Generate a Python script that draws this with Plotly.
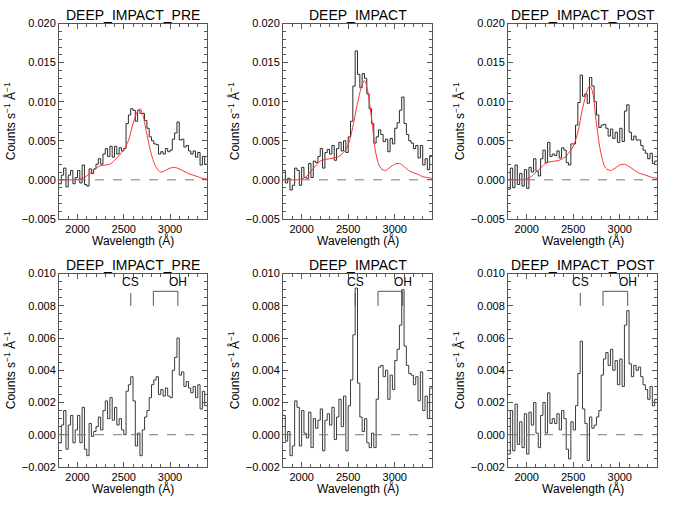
import plotly.graph_objects as go

# bin left edges of the spectra (Angstrom), 25 A bins from 1800 to 3400
wave = list(range(1800, 3400, 25))

# observed spectra, counts s^-1 A^-1
pre_obs = [-0.0005, 0.0006, 0.0015, -0.0009, 0.0006, 0.0012, -0.0005, 0.0003,
           0.0012, -0.0004, 0.0019, -0.0006, -0.0008, 0.0014, 0.0008, 0.0014,
           0.0020, 0.0027, 0.0020, 0.0033, 0.0040, 0.0030, 0.0043, 0.0029,
           0.0043, 0.0033, 0.0041, 0.0037, 0.0040, 0.0072, 0.0083, 0.0091,
           0.0089, 0.0075, 0.0089, 0.0085, 0.0085, 0.0076, 0.0066, 0.0055,
           0.0050, 0.0046, 0.0045, 0.0033, 0.0036, 0.0033, 0.0040, 0.0036,
           0.0038, 0.0052, 0.0060, 0.0074, 0.0051, 0.0052, 0.0042, 0.0044,
           0.0037, 0.0033, 0.0037, 0.0029, 0.0035, 0.0019, 0.0030, 0.0020]

impact_obs = [0.0012, -0.0004, 0.0002, -0.0013, -0.0007, 0.0015, 0.0012, -0.0007,
              0.0016, 0.0003, 0.0002, 0.0021, 0.0003, 0.0024, 0.0022, 0.0030,
              0.0040, 0.0015, 0.0035, 0.0039, 0.0033, 0.0044, 0.0025, 0.0040,
              0.0048, 0.0037, 0.0050, 0.0035, 0.0055, 0.0075, 0.0120, 0.0165,
              0.0135, 0.0118, 0.0136, 0.0130, 0.0110, 0.0091, 0.0072, 0.0047,
              0.0055, 0.0064, 0.0058, 0.0049, 0.0052, 0.0036, 0.0053, 0.0046,
              0.0066, 0.0073, 0.0089, 0.0106, 0.0072, 0.0058, 0.0050, 0.0047,
              0.0040, 0.0044, 0.0028, 0.0044, 0.0019, 0.0027, 0.0013, 0.0031]

post_obs = [-0.0012, 0.0015, -0.0010, 0.0019, -0.0006, 0.0008, -0.0008, 0.0013,
            -0.0011, 0.0016, 0.0010, 0.0027, 0.0011, 0.0005, 0.0027, 0.0038,
            0.0022, 0.0048, 0.0030, 0.0033, 0.0031, 0.0037, 0.0028, 0.0041,
            0.0038, 0.0022, 0.0019, 0.0046, 0.0046, 0.0070, 0.0099, 0.0134,
            0.0107, 0.0110, 0.0098, 0.0131, 0.0120, 0.0100, 0.0083, 0.0067,
            0.0070, 0.0071, 0.0066, 0.0056, 0.0065, 0.0053, 0.0061, 0.0048,
            0.0066, 0.0049, 0.0088, 0.0096, 0.0061, 0.0051, 0.0056, 0.0051,
            0.0051, 0.0044, 0.0038, 0.0034, 0.0027, 0.0034, 0.0021, 0.0024]

# smooth model spectra (red)
model_wave = [1800, 1850, 1900, 1950, 2000, 2050, 2100, 2150, 2200, 2250, 2300,
              2350, 2400, 2450, 2500, 2550, 2600, 2650, 2675, 2700, 2750, 2800,
              2850, 2900, 2950, 3000, 3050, 3100, 3150, 3200, 3250, 3300, 3350, 3400]
pre_model = [0.0, 0.0, 0.0, 0.0, 0.00005, 0.0002, 0.0005, 0.0010, 0.0015, 0.0018,
             0.0019, 0.0020, 0.0025, 0.0031, 0.0039, 0.0050, 0.0072, 0.0088, 0.0091,
             0.0086, 0.0058, 0.0032, 0.0016, 0.0010, 0.0012, 0.0015, 0.0016, 0.0014,
             0.0011, 0.0008, 0.0006, 0.0004, 0.0002, 0.0001]
impact_model = [0.0, 0.0, 0.0, 0.0, 0.0001, 0.0004, 0.0011, 0.0018, 0.0024, 0.0026,
                0.0027, 0.0028, 0.0030, 0.0035, 0.0045, 0.0068, 0.0098, 0.0122, 0.0127,
                0.0119, 0.0080, 0.0032, 0.0015, 0.0012, 0.0016, 0.0020, 0.0021, 0.0017,
                0.0012, 0.0009, 0.0007, 0.0004, 0.0003, 0.0002]
post_model = [0.0, 0.0, 0.0, 0.0, 0.0001, 0.0004, 0.0010, 0.0015, 0.0021, 0.0023,
              0.0024, 0.0025, 0.0028, 0.0034, 0.0043, 0.0061, 0.0091, 0.0114, 0.0120,
              0.0116, 0.0072, 0.0033, 0.0015, 0.0012, 0.0015, 0.0019, 0.0020, 0.0017,
              0.0013, 0.0009, 0.0007, 0.0005, 0.0003, 0.0002]

# residual spectra (observed minus model)
pre_res = [-0.0005, 0.0006, 0.0015, -0.0009, 0.0006, 0.0012, -0.0005, 0.0003,
           0.0012, -0.0005, 0.0017, -0.0009, -0.0013, 0.0007, -0.0001, 0.0002,
           0.0005, 0.0011, 0.0003, 0.0015, 0.0021, 0.0010, 0.0023, 0.0009,
           0.0017, 0.0006, 0.0010, 0.0003, 0.0000, 0.0027, 0.0031, 0.0036,
           0.0021, -0.0007, 0.0001, -0.0013, 0.0003, 0.0011, 0.0015, 0.0023,
           0.0031, 0.0034, 0.0036, 0.0025, 0.0028, 0.0024, 0.0029, 0.0024,
           0.0023, 0.0040, 0.0048, 0.0060, 0.0037, 0.0039, 0.0030, 0.0033,
           0.0029, 0.0026, 0.0030, 0.0023, 0.0031, 0.0016, 0.0027, 0.0018]

impact_res = [0.0012, -0.0004, 0.0002, -0.0013, -0.0007, 0.0021, 0.0017, -0.0007,
              0.0015, 0.0001, -0.0002, 0.0014, -0.0008, 0.0010, 0.0004, 0.0009,
              0.0016, -0.0010, 0.0009, 0.0013, 0.0006, 0.0017, -0.0003, 0.0011,
              0.0022, 0.0005, 0.0024, -0.0010, 0.0018, 0.0034, 0.0062, 0.0091,
              0.0032, 0.0011, 0.0002, 0.0010, -0.0005, -0.0008, 0.0001, -0.0008,
              0.0022, 0.0042, 0.0043, 0.0036, 0.0040, 0.0022, 0.0037, 0.0028,
              0.0046, 0.0053, 0.0068, 0.0090, 0.0055, 0.0043, 0.0038, 0.0037,
              0.0031, 0.0036, 0.0021, 0.0039, 0.0015, 0.0024, 0.0010, 0.0029]

post_res = [-0.0012, 0.0015, -0.0010, 0.0019, -0.0006, 0.0008, -0.0008, 0.0013,
            -0.0012, 0.0014, 0.0006, 0.0020, 0.0001, -0.0008, 0.0012, 0.0020,
            0.0001, 0.0026, 0.0007, 0.0010, 0.0007, 0.0013, 0.0003, 0.0015,
            0.0010, -0.0009, -0.0015, 0.0008, 0.0003, 0.0018, 0.0038, 0.0058,
            0.0016, 0.0007, -0.0016, 0.0011, 0.0004, 0.0006, 0.0011, 0.0015,
            0.0037, 0.0047, 0.0051, 0.0043, 0.0053, 0.0040, 0.0046, 0.0031,
            0.0047, 0.0030, 0.0068, 0.0077, 0.0044, 0.0036, 0.0043, 0.0040,
            0.0042, 0.0036, 0.0031, 0.0028, 0.0022, 0.0030, 0.0018, 0.0022]

titles = ["DEEP_IMPACT_PRE", "DEEP_IMPACT", "DEEP_IMPACT_POST"]
obs_list = [pre_obs, impact_obs, post_obs]
model_list = [pre_model, impact_model, post_model]
res_list = [pre_res, impact_res, post_res]

# emission line markers (Angstrom)
cs_wave = 2576
oh_waves = [2820, 3085]
x_end = 3400

W, H = 675, 513
FONT = "Liberation Sans, Arial, Helvetica, sans-serif"
col_px = [(59, 207), (283, 432), (508, 657)]
row_px = [(18, 218), (274, 472)]


def xdom(c):
    return [col_px[c][0] / W, col_px[c][1] / W]


def ydom(r):
    return [1 - row_px[r][1] / H, 1 - row_px[r][0] / H]


def step(vals):
    return wave + [x_end], vals + [vals[-1]]


fig = go.Figure()
axis_common = dict(showline=True, linecolor="#555555", linewidth=1, mirror="allticks",
                   ticks="inside", ticklen=5, tickcolor="#555555", showgrid=False,
                   zeroline=False, tickfont=dict(size=11, color="black", family=FONT))

layout = {}
for r in range(2):
    for c in range(3):
        k = r * 3 + c + 1
        xa = "x" if k == 1 else f"x{k}"
        ya = "y" if k == 1 else f"y{k}"
        layout[f"xaxis{'' if k == 1 else k}"] = dict(
            axis_common, domain=xdom(c), anchor=ya, range=[1800, 3400],
            dtick=500, tick0=0,
            minor=dict(dtick=100, ticks="inside", ticklen=3, tickcolor="#555555"))
        if r == 0:
            yr, yd, ym = [-0.005, 0.020], 0.005, 0.001
        else:
            yr, yd, ym = [-0.002, 0.010], 0.002, 0.0005
        layout[f"yaxis{'' if k == 1 else k}"] = dict(
            axis_common, domain=ydom(r), anchor=xa, range=yr, dtick=yd, tick0=0,
            tickformat=".3f",
            minor=dict(dtick=ym, ticks="inside", ticklen=3, tickcolor="#555555"))

        if r == 0:
            sx, sy = step(obs_list[c])
            fig.add_trace(go.Scatter(x=sx, y=sy, mode="lines", line_shape="hv",
                                     line=dict(color="#2a2a2a", width=1),
                                     xaxis=xa, yaxis=ya, showlegend=False))
            fig.add_trace(go.Scatter(x=model_wave, y=model_list[c], mode="lines",
                                     line_shape="spline",
                                     line=dict(color="#ff3333", width=1),
                                     xaxis=xa, yaxis=ya, showlegend=False))
        else:
            sx, sy = step(res_list[c])
            fig.add_trace(go.Scatter(x=sx, y=sy, mode="lines", line_shape="hv",
                                     line=dict(color="#3a3a3a", width=1),
                                     xaxis=xa, yaxis=ya, showlegend=False))
            # CS marker and OH bracket
            fig.add_shape(type="line", xref=xa, yref=ya, x0=cs_wave, x1=cs_wave,
                          y0=0.0080, y1=0.0088, line=dict(color="#555555", width=1))
            fig.add_shape(type="path", xref=xa, yref=ya,
                          path=f"M {oh_waves[0]} 0.0080 L {oh_waves[0]} 0.0089 "
                               f"L {oh_waves[1]} 0.0089 L {oh_waves[1]} 0.0080",
                          line=dict(color="#555555", width=1))
            fig.add_annotation(x=cs_wave, y=0.0089, xref=xa, yref=ya, text="CS",
                               showarrow=False, xanchor="center", yanchor="bottom",
                               font=dict(size=12, color="black", family=FONT))
            fig.add_annotation(x=oh_waves[1], y=0.0089, xref=xa, yref=ya, text="OH",
                               showarrow=False, xanchor="center", yanchor="bottom",
                               font=dict(size=12, color="black", family=FONT))

        # dashed zero line
        fig.add_shape(type="line", xref=f"{xa} domain", yref=ya, x0=0, x1=1, y0=0, y1=0,
                      line=dict(color="#777777", width=1, dash="dash"))

        # panel title
        xc = (col_px[c][0] + col_px[c][1]) / 2 / W
        fig.add_annotation(x=xc, y=1 - (row_px[r][0] - 9) / H, xref="paper", yref="paper",
                           text=titles[c], showarrow=False, xanchor="center",
                           yanchor="middle",
                           font=dict(size=14, color="black", family=FONT))
        # x-axis title
        fig.add_annotation(x=xc, y=1 - (row_px[r][1] + 22) / H, xref="paper", yref="paper",
                           text="Wavelength (Å)", showarrow=False, xanchor="center",
                           yanchor="middle",
                           font=dict(size=12, color="black", family=FONT))
        # y-axis title
        yc = 1 - (row_px[r][0] + row_px[r][1]) / 2 / H
        fig.add_annotation(x=(col_px[c][0] - 49) / W, y=yc, xref="paper", yref="paper",
                           text="Counts s<sup>−1</sup> Å<sup>−1</sup>", showarrow=False,
                           textangle=-90, xanchor="center", yanchor="middle",
                           font=dict(size=12, color="black", family=FONT))

fig.update_layout(width=W, height=H, margin=dict(l=0, r=0, t=0, b=0),
                  plot_bgcolor="white", paper_bgcolor="white",
                  font=dict(family=FONT, color="black"), **layout)

fig.write_html("out.html", config={"displayModeBar": False},
               post_script="document.body.style.margin='0';")
